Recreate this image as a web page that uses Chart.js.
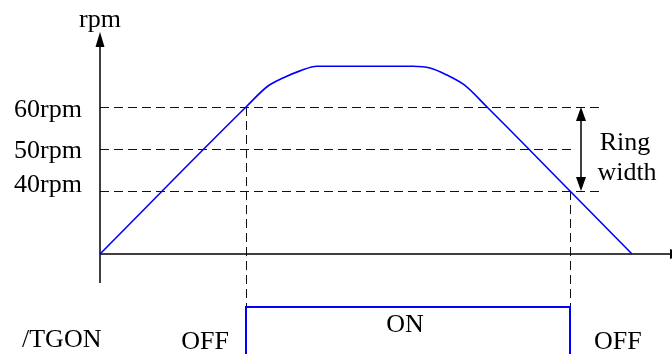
<!DOCTYPE html>
<html>
<head>
<meta charset="utf-8">
<script src="https://cdn.jsdelivr.net/npm/chart.js@4"></script>
<style>
  html, body { margin: 0; padding: 0; background: #fff; }
  #wrap { width: 672px; height: 354px; }
</style>
</head>
<body>
<div id="wrap"><canvas id="chart" width="672" height="354"></canvas></div>
<script>
// speed profile (time in arbitrary units, speed in rpm; axis crosses at baseRpm)
const baseRpm = 25;
const tSpeed   = [0,  146, 168, 183,  200,  217,  313,  330,  347,  364,  387, 470, 532];
const rpmSpeed = [25, 60,  65,  66.9, 68.6, 69.7, 69.7, 69.3, 67.6, 65.3, 60,  40,  25];

// threshold levels and their labels
const levelRpm    = [60, 50, 40];
const levelLabels = ['60rpm', '50rpm', '40rpm'];
const levelEnd    = [500, 473, 500];   // where each dashed line stops (time units)

// /TGON output (1 = ON, 0 = OFF)
const tTgon    = [146, 146, 470, 470];
const tgonVals = [0,   1,   1,   0];
const tgonLabels = ['OFF', 'ON', 'OFF'];

const FONT = '26px "Liberation Serif", "Times New Roman", serif';

function arrowHead(ctx, x, y, dir, len, half) {
  // dir: 'up' | 'down' | 'right'
  ctx.beginPath();
  if (dir === 'up') {
    ctx.moveTo(x, y); ctx.lineTo(x - half, y + len); ctx.lineTo(x + half, y + len);
  } else if (dir === 'down') {
    ctx.moveTo(x, y); ctx.lineTo(x - half, y - len); ctx.lineTo(x + half, y - len);
  } else {
    ctx.moveTo(x, y); ctx.lineTo(x - len, y - half); ctx.lineTo(x - len, y + half);
  }
  ctx.closePath();
  ctx.fill();
}

// crisp 1px lines
const crisp = v => Math.round(v) + 0.5;

// axes, dashed guides and all the text
const diagramPlugin = {
  id: 'diagram',
  beforeDatasetsDraw(chart) {
    const ctx = chart.ctx;
    const x = chart.scales.x, y = chart.scales.y, y2 = chart.scales.y2;
    const x0 = x.getPixelForValue(0);
    const yBase = y.getPixelForValue(baseRpm);
    const yOn = y2.getPixelForValue(1);

    ctx.save();
    // dashed level lines
    ctx.strokeStyle = '#111';
    ctx.lineWidth = 1;
    ctx.setLineDash([9, 5]);
    levelRpm.forEach((v, i) => {
      const py = crisp(y.getPixelForValue(v));
      ctx.beginPath();
      ctx.moveTo(x0, py);
      ctx.lineTo(x.getPixelForValue(levelEnd[i]), py);
      ctx.stroke();
    });
    // vertical dashed lines at the switching points
    [[tTgon[0], 60], [tTgon[2], 40]].forEach(([t, v]) => {
      const px = crisp(x.getPixelForValue(t));
      ctx.beginPath();
      ctx.moveTo(px, y.getPixelForValue(v));
      ctx.lineTo(px, yOn);
      ctx.stroke();
    });
    ctx.setLineDash([]);

    // axes
    ctx.strokeStyle = '#000';
    ctx.fillStyle = '#000';
    ctx.lineWidth = 1.5;
    ctx.beginPath();
    ctx.moveTo(x0, 45);
    ctx.lineTo(x0, yBase + 29);
    ctx.moveTo(x0, yBase);
    ctx.lineTo(670, yBase);
    ctx.stroke();
    arrowHead(ctx, x0, 32, 'up', 15, 4.5);
    arrowHead(ctx, 684, yBase, 'right', 14, 5);

    // ring width double arrow
    const ax = 581;
    const yTop = y.getPixelForValue(60), yBot = y.getPixelForValue(40);
    ctx.beginPath();
    ctx.moveTo(ax, yTop + 10);
    ctx.lineTo(ax, yBot - 10);
    ctx.stroke();
    arrowHead(ctx, ax, yTop, 'up', 14, 5);
    arrowHead(ctx, ax, yBot, 'down', 14, 5);

    // text
    ctx.font = FONT;
    ctx.textBaseline = 'alphabetic';
    ctx.textAlign = 'center';
    ctx.fillText('rpm', x0, 27);
    ctx.fillText('Ring', 625, 150);
    ctx.fillText('width', 627, 180);

    ctx.textAlign = 'right';
    const nudge = [10, 9, 1];
    levelRpm.forEach((v, i) => {
      ctx.fillText(levelLabels[i], 82, y.getPixelForValue(v) + nudge[i]);
    });

    ctx.textAlign = 'left';
    ctx.fillText('/TGON', 22, 347);
    const xOn = x.getPixelForValue(tTgon[0]);
    const xOff = x.getPixelForValue(tTgon[2]);
    ctx.textAlign = 'right';
    ctx.fillText(tgonLabels[0], xOn - 17, 349);
    ctx.textAlign = 'center';
    ctx.fillText(tgonLabels[1], (xOn + xOff) / 2 - 3, 332);
    ctx.textAlign = 'left';
    ctx.fillText(tgonLabels[2], xOff + 24, 349);
    ctx.restore();
  }
};

const ctx = document.getElementById('chart').getContext('2d');
new Chart(ctx, {
  type: 'line',
  data: {
    datasets: [
      {
        label: 'speed',
        data: tSpeed.map((t, i) => ({ x: t, y: rpmSpeed[i] })),
        borderColor: '#0000ff',
        borderWidth: 1.6,
        pointRadius: 0,
        cubicInterpolationMode: 'monotone',
        yAxisID: 'y'
      },
      {
        label: '/TGON',
        data: tTgon.map((t, i) => ({ x: t, y: tgonVals[i] })),
        borderColor: '#0000ff',
        borderWidth: 2,
        pointRadius: 0,
        tension: 0,
        yAxisID: 'y2'
      }
    ]
  },
  options: {
    responsive: false,
    animation: false,
    devicePixelRatio: 1,
    layout: { padding: 0 },
    plugins: { legend: { display: false }, tooltip: { enabled: false } },
    scales: {
      x: { type: 'linear', min: -100, max: 572, display: false },
      y: { type: 'linear', min: 1.1905, max: 85.4762, display: false },
      y2: { type: 'linear', min: 0.4125, max: 4.8375, display: false }
    }
  },
  plugins: [diagramPlugin]
});
</script>
</body>
</html>
